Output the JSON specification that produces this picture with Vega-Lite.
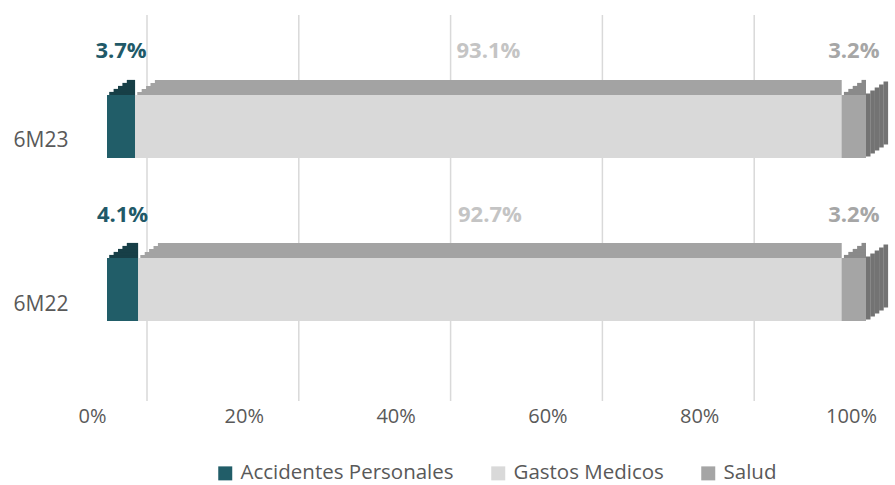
{
  "$schema": "https://vega.github.io/schema/vega-lite/v6.json",
  "width": 759,
  "height": 386,
  "autosize": {"type": "none"},
  "padding": {"left": 107, "top": 15, "right": 29, "bottom": 84},
  "config": {
    "view": {"stroke": null},
    "font": "Open Sans",
    "legend": {
      "orient": "none",
      "legendX": 108,
      "legendY": 448,
      "direction": "horizontal",
      "title": null,
      "labelFontSize": 20.5,
      "labelColor": "#595959",
      "labelLimit": 0,
      "labelOffset": 5,
      "symbolType": "square",
      "symbolSize": 196,
      "symbolStrokeWidth": 0,
      "columnPadding": 34
    }
  },
  "datasets": {
    "bars": [
      {"periodo": "6M23", "serie": "Accidentes Personales", "orden": 1, "valor": 3.7},
      {"periodo": "6M23", "serie": "Gastos Medicos", "orden": 2, "valor": 93.1},
      {"periodo": "6M23", "serie": "Salud", "orden": 3, "valor": 3.2},
      {"periodo": "6M22", "serie": "Accidentes Personales", "orden": 1, "valor": 4.1},
      {"periodo": "6M22", "serie": "Gastos Medicos", "orden": 2, "valor": 92.7},
      {"periodo": "6M22", "serie": "Salud", "orden": 3, "valor": 3.2}
    ],
    "grid": [{"v": 0}, {"v": 20}, {"v": 40}, {"v": 60}, {"v": 80}, {"v": 100}]
  },
  "data": {"name": "bars"},
  "transform": [
    {"stack": "valor", "groupby": ["periodo"], "sort": [{"field": "orden"}], "as": ["x0", "x1"]},
    {"calculate": "(datum.x0 + datum.x1) / 2", "as": "mid"},
    {"calculate": "format(datum.valor, '.1f') + '%'", "as": "etiqueta"}
  ],
  "layer": [
    {
      "data": {"name": "grid"},
      "mark": {"type": "rule", "color": "#d9d9d9", "strokeWidth": 1.5, "xOffset": 40},
      "encoding": {
        "x": {"field": "v", "type": "quantitative", "scale": {"domain": [0, 100], "nice": false},
          "axis": {"title": null, "values": [0, 20, 40, 60, 80, 100], "labelExpr": "datum.value + '%'", "labelFlush": false, "labelOffset": -15, "labelPadding": 5, "labelFontSize": 20, "labelColor": "#595959", "ticks": false, "domain": false, "grid": false}}
      }
    },
    {
      "mark": {"type": "bar", "height": 63},
      "encoding": {
        "y": {"field": "periodo", "type": "nominal", "sort": ["6M23", "6M22"], "scale": {"paddingInner": 0, "paddingOuter": 0.184},
          "axis": {"title": null, "ticks": false, "domain": false, "labelPadding": 39, "labelOffset": 15, "labelFontSize": 21, "labelColor": "#595959"}},
        "x": {"field": "x0", "type": "quantitative"},
        "x2": {"field": "x1"},
        "color": {"field": "serie", "type": "nominal", "scale": {"domain": ["Accidentes Personales", "Gastos Medicos", "Salud"], "range": ["#215d68", "#d9d9d9", "#a5a5a5"]}}
      }
    },
    {
      "mark": {"type": "bar", "height": 3.2, "yOffset": -33, "xOffset": 2.2},
      "encoding": {
        "y": {"field": "periodo", "type": "nominal", "sort": ["6M23", "6M22"]},
        "x": {"field": "x0", "type": "quantitative"},
        "x2": {"field": "x1"},
        "color": {"field": "serie", "type": "nominal", "scale": {"domain": ["Accidentes Personales", "Gastos Medicos", "Salud"], "range": ["#173f47", "#a3a3a3", "#8a8a8a"]}, "legend": null}
      }
    },
    {
      "mark": {"type": "bar", "height": 3.2, "yOffset": -36, "xOffset": 6.6},
      "encoding": {
        "y": {"field": "periodo", "type": "nominal", "sort": ["6M23", "6M22"]},
        "x": {"field": "x0", "type": "quantitative"},
        "x2": {"field": "x1"},
        "color": {"field": "serie", "type": "nominal", "scale": {"domain": ["Accidentes Personales", "Gastos Medicos", "Salud"], "range": ["#173f47", "#a3a3a3", "#8a8a8a"]}, "legend": null}
      }
    },
    {
      "mark": {"type": "bar", "height": 3.2, "yOffset": -39, "xOffset": 11},
      "encoding": {
        "y": {"field": "periodo", "type": "nominal", "sort": ["6M23", "6M22"]},
        "x": {"field": "x0", "type": "quantitative"},
        "x2": {"field": "x1"},
        "color": {"field": "serie", "type": "nominal", "scale": {"domain": ["Accidentes Personales", "Gastos Medicos", "Salud"], "range": ["#173f47", "#a3a3a3", "#8a8a8a"]}, "legend": null}
      }
    },
    {
      "mark": {"type": "bar", "height": 3.2, "yOffset": -42, "xOffset": 15.4},
      "encoding": {
        "y": {"field": "periodo", "type": "nominal", "sort": ["6M23", "6M22"]},
        "x": {"field": "x0", "type": "quantitative"},
        "x2": {"field": "x1"},
        "color": {"field": "serie", "type": "nominal", "scale": {"domain": ["Accidentes Personales", "Gastos Medicos", "Salud"], "range": ["#173f47", "#a3a3a3", "#8a8a8a"]}, "legend": null}
      }
    },
    {
      "mark": {"type": "bar", "height": 3.2, "yOffset": -45, "xOffset": 19.8},
      "encoding": {
        "y": {"field": "periodo", "type": "nominal", "sort": ["6M23", "6M22"]},
        "x": {"field": "x0", "type": "quantitative"},
        "x2": {"field": "x1"},
        "color": {"field": "serie", "type": "nominal", "scale": {"domain": ["Accidentes Personales", "Gastos Medicos", "Salud"], "range": ["#173f47", "#a3a3a3", "#8a8a8a"]}, "legend": null}
      }
    },
    {
      "transform": [{"filter": "datum.serie == 'Salud'"}],
      "mark": {"type": "tick", "thickness": 4.6, "size": 63, "xOffset": 2.2, "yOffset": -1.5, "color": "#737373", "opacity": 1},
      "encoding": {
        "y": {"field": "periodo", "type": "nominal", "sort": ["6M23", "6M22"]},
        "x": {"field": "x1", "type": "quantitative"}
      }
    },
    {
      "transform": [{"filter": "datum.serie == 'Salud'"}],
      "mark": {"type": "tick", "thickness": 4.6, "size": 63, "xOffset": 6.6, "yOffset": -4.5, "color": "#737373", "opacity": 1},
      "encoding": {
        "y": {"field": "periodo", "type": "nominal", "sort": ["6M23", "6M22"]},
        "x": {"field": "x1", "type": "quantitative"}
      }
    },
    {
      "transform": [{"filter": "datum.serie == 'Salud'"}],
      "mark": {"type": "tick", "thickness": 4.6, "size": 63, "xOffset": 11, "yOffset": -7.5, "color": "#737373", "opacity": 1},
      "encoding": {
        "y": {"field": "periodo", "type": "nominal", "sort": ["6M23", "6M22"]},
        "x": {"field": "x1", "type": "quantitative"}
      }
    },
    {
      "transform": [{"filter": "datum.serie == 'Salud'"}],
      "mark": {"type": "tick", "thickness": 4.6, "size": 63, "xOffset": 15.4, "yOffset": -10.5, "color": "#737373", "opacity": 1},
      "encoding": {
        "y": {"field": "periodo", "type": "nominal", "sort": ["6M23", "6M22"]},
        "x": {"field": "x1", "type": "quantitative"}
      }
    },
    {
      "transform": [{"filter": "datum.serie == 'Salud'"}],
      "mark": {"type": "tick", "thickness": 4.6, "size": 63, "xOffset": 19.8, "yOffset": -13.5, "color": "#737373", "opacity": 1},
      "encoding": {
        "y": {"field": "periodo", "type": "nominal", "sort": ["6M23", "6M22"]},
        "x": {"field": "x1", "type": "quantitative"}
      }
    },
    {
      "mark": {"type": "bar", "height": 63},
      "encoding": {
        "y": {"field": "periodo", "type": "nominal", "sort": ["6M23", "6M22"]},
        "x": {"field": "x0", "type": "quantitative"},
        "x2": {"field": "x1"},
        "color": {"field": "serie", "type": "nominal", "scale": {"domain": ["Accidentes Personales", "Gastos Medicos", "Salud"], "range": ["#215d68", "#d9d9d9", "#a5a5a5"]}, "legend": null}
      }
    },
    {
      "mark": {"type": "text", "fontWeight": "bold", "fontSize": 22, "yOffset": -75, "baseline": "middle", "align": "center"},
      "encoding": {
        "y": {"field": "periodo", "type": "nominal", "sort": ["6M23", "6M22"]},
        "x": {"field": "mid", "type": "quantitative"},
        "text": {"field": "etiqueta", "type": "nominal"},
        "color": {"field": "serie", "type": "nominal", "scale": {"domain": ["Accidentes Personales", "Gastos Medicos", "Salud"], "range": ["#215968", "#c4c4c4", "#a6a6a6"]}, "legend": null}
      }
    }
  ],
  "resolve": {"scale": {"color": "independent"}}
}
